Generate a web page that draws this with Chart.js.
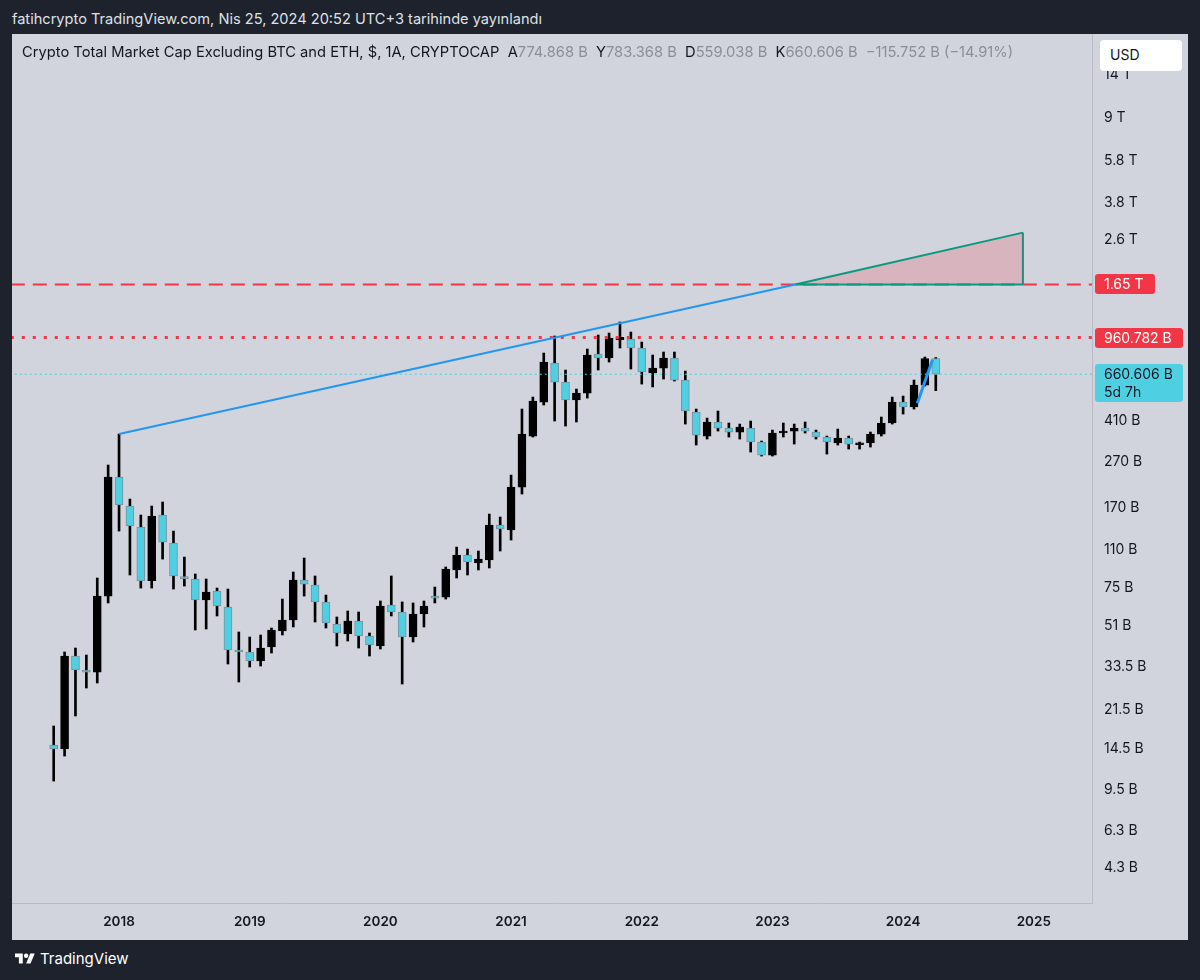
<!DOCTYPE html>
<html>
<head>
<meta charset="utf-8">
<script src="https://cdn.jsdelivr.net/npm/chart.js@4.4.1/dist/chart.umd.min.js"></script>
<style>
  html, body { margin:0; padding:0; background:#1e222d; width:1200px; height:980px; overflow:hidden; font-family: Inter, "Noto Sans", sans-serif; }
  #hdr { position:absolute; left:12px; top:10px; font-size:14.6px; color:#dfe1e6; white-space:nowrap; }
  #panel { position:absolute; left:12px; top:34px; width:1176px; height:906px; background:#d1d4dc; }
  #wrap { position:absolute; left:0; top:0; width:1176px; height:906px; }
  #legend { position:absolute; left:10px; top:9px; font-size:14.7px; color:#131722; white-space:nowrap; }
  #legend .v { color:#8a8e98; }
  #usd { position:absolute; left:1088px; top:6px; width:82px; height:31px; background:#fff; border-radius:4px; font-size:14px; color:#131722; line-height:29px; padding-left:10px; box-sizing:border-box; }
  #foot { position:absolute; left:15px; top:949px; color:#fff; font-size:15px; display:flex; align-items:center; gap:5px; }
</style>
</head>
<body>
<div id="hdr">fatihcrypto TradingView.com, Nis 25, 2024 20:52 UTC+3 tarihinde yayınlandı</div>
<div id="panel">
  <div id="wrap"><canvas id="c"></canvas></div>
  <div id="legend">Crypto Total Market Cap Excluding BTC and ETH, $, 1A, CRYPTOCAP&nbsp; A<span class="v">774.868 B</span>&nbsp; Y<span class="v">783.368 B</span>&nbsp; D<span class="v">559.038 B</span>&nbsp; K<span class="v">660.606 B</span>&nbsp; <span class="v">−115.752 B (−14.91%)</span></div>
  <div id="usd">USD</div>
</div>
<div id="foot">
  <svg width="20" height="16" viewBox="0 0 36 28"><path fill="#fff" d="M14 22H7V11H0V4h14v18z"/><circle fill="#fff" cx="20" cy="8" r="4"/><path fill="#fff" d="M28 22h-8l7.5-18h8L28 22z"/></svg>
  <span>TradingView</span>
</div>
<script>
// ---- DATA (values in billions USD) ----
const months = ['2017-07','2017-08','2017-09','2017-10','2017-11','2017-12',
 '2018-01','2018-02','2018-03','2018-04','2018-05','2018-06','2018-07','2018-08','2018-09','2018-10','2018-11','2018-12',
 '2019-01','2019-02','2019-03','2019-04','2019-05','2019-06','2019-07','2019-08','2019-09','2019-10','2019-11','2019-12',
 '2020-01','2020-02','2020-03','2020-04','2020-05','2020-06','2020-07','2020-08','2020-09','2020-10','2020-11','2020-12',
 '2021-01','2021-02','2021-03','2021-04','2021-05','2021-06','2021-07','2021-08','2021-09','2021-10','2021-11','2021-12',
 '2022-01','2022-02','2022-03','2022-04','2022-05','2022-06','2022-07','2022-08','2022-09','2022-10','2022-11','2022-12',
 '2023-01','2023-02','2023-03','2023-04','2023-05','2023-06','2023-07','2023-08','2023-09','2023-10','2023-11','2023-12',
 '2024-01','2024-02','2024-03','2024-04'];
const open = [15.06,14.46,37.33,32.36,31.7,68.80,
 231.6,172.3,139.1,80.5,157.2,118.1,83.6,81.88,66.1,72.40,61.54,39.69,
 38.89,35.48,40.92,48.18,53.9,81.0,76.97,64.78,51.74,46.73,53.35,45.78,
 41.34,62.81,58.48,45.32,57.30,68.80,68.10,89.77,104.5,96.40,99.4,142.0,
 134.9,209.1,351.7,497.5,740.6,610.0,507.8,545.3,811.8,779.3,940,946.0,
 863.0,668.8,703.7,779.3,622.6,449.3,351.7,405.9,381.6,366.4,381.6,330.9,
 289.8,362.7,370.1,381.6,366.4,348.2,327.6,344.7,322,327.6,359.0,401.8,
 497.5,472.8,591.7,774.868];
const high = [18.29,38.89,40.50,37.71,82.72,261.7,
 359.0,185.0,157.2,172.3,179.5,133.5,102.4,86.17,81.88,74.65,73.90,47.69,
 45.32,46.25,49.67,66.73,87.95,101.4,84.43,69.51,55.58,59.08,58.48,47.21,
 65.43,84.43,64.78,64.11,65.43,75.42,92.55,113.4,111.1,108.9,158.8,154.0,
 236.3,463.3,523.5,820.1,975.5,689.5,568.0,854.3,985.4,1005.8,1125.2,1016.1,
 917.5,803.5,828.5,828.5,682.5,463.3,422.6,453.9,401.8,397.5,409.9,334.3,
 373.9,401.8,397.5,405.9,373.9,351.7,377.8,351.7,330.9,366.4,427.0,523.5,
 528.8,622.6,787.3,783.368];
const low = [10.43,13.46,20.25,26.94,28.35,64.11,
 133.5,85.30,74.65,74.65,100.3,73.90,76.19,48.67,49.17,56.15,34.41,28.64,
 33.37,33.71,38.49,46.25,50.19,68.80,52.81,49.67,41.34,43.50,40.50,37.33,
 40.10,56.15,28.06,43.06,50.19,64.11,66.73,82.72,85.30,89.77,91.61,108.9,
 121.8,194.7,348.2,482.6,409.9,389.5,405.9,518.1,689.5,748.2,863.0,696.6,
 597.7,580.4,629.1,616.3,397.5,320.9,341.2,370.1,348.2,341.2,298.8,286.9,
 286.9,348.2,324.2,362.7,341.2,292.8,320.9,308.1,308.1,314.4,351.7,397.5,
 440.2,463.3,585.7,559.038];
const close = [14.46,37.33,32.36,31.7,68.80,231.6,
 174.1,140.5,80.2,155.6,119.3,84.43,82.2,66.1,71.67,62.17,39.69,38.9,
 35.48,40.50,48.67,53.9,81.0,77.76,64.78,52.28,47.21,53.35,45.78,41.77,
 62.17,58.48,45.32,57.30,62.17,67.4,90.68,104.5,97.39,100.3,142.0,136.3,
 209.1,359.0,502.6,748.2,610.0,507.8,545.3,803.5,779.3,955.7,962,863.0,
 675.6,703.7,779.3,622.6,453.9,355.3,405.9,381.6,366.4,385.5,330.9,289.8,
 362.7,368,381.6,370.1,348.2,330.9,344.7,324.2,327.6,359.0,401.8,497.5,
 472.8,591.7,774.868,660.606];

const yearLabels = ['2018','2019','2020','2021','2022','2023','2024','2025'];
const priceTicks = [4.3,6.3,9.5,14.5,21.5,33.5,51,75,110,170,270,410,2600,3800,5800,9000,14000];

// drawings (month index from 2017-07, value in B)
const trendLineX = [6, 68.1];
const trendLineY = [359.0, 1650];
const triangleX = [68.1, 89];
const triangleTopY = [1650, 2800];
const triangleBottomY = [1650, 1650];
const shortLineX = [79.3, 80.7];
const shortLineY = [490, 765];
const resistanceLevel = 1650;
const athLevel = 960.782;
const lastPrice = 660.606;

// ---- styles ----
const UP = '#000000', DOWN = '#4fd0e2', DOWN_BORDER = '#78909c';
const RED = '#f23645', BLUE = '#2196f3', GREEN = '#089981';
const FONT = 'Inter, "Noto Sans", sans-serif';

const idx = months.map((m, i) => i);
const wickData = idx.map(i => ({x: i, y: [low[i], high[i]]}));
const bodyData = idx.map(i => ({x: i, y: [open[i], close[i]]}));
const isUp = idx.map(i => close[i] >= open[i]);

function seg(xs, ys) { return xs.map((x, i) => ({x: x, y: ys[i]})); }
function fmt(v) {
  if (v >= 1000) return (+(v/1000).toFixed(2)) + ' T';
  return (+v.toFixed(3)) + ' B';
}

const tagPlugin = {
  id: 'tags',
  afterDraw(chart) {
    const ctx = chart.ctx, ys = chart.scales.y;
    const L = ys.left + 3;
    function box(v, w, bg, lines, color, hBelow) {
      const py = Math.round(ys.getPixelForValue(v));
      const top = py - 10, h = 20 + (hBelow || 0);
      ctx.save();
      ctx.fillStyle = bg;
      ctx.beginPath();
      ctx.roundRect(L, top, w, h, 3);
      ctx.fill();
      ctx.fillStyle = color;
      ctx.font = '14px ' + FONT;
      ctx.textBaseline = 'middle';
      ctx.textAlign = 'left';
      lines.forEach((t, k) => ctx.fillText(t, L + 9, py + k * 18 + 0.5));
      ctx.restore();
    }
    box(resistanceLevel, 60, RED, [fmt(resistanceLevel)], '#ffffff');
    box(athLevel, 88, RED, [fmt(athLevel)], '#ffffff');
    box(lastPrice, 88, DOWN, [fmt(lastPrice), '5d 7h'], '#131722', 18);
  }
};

const lineBase = { type: 'line', pointRadius: 0, tension: 0, borderWidth: 2, fill: false, order: 0 };

function noPad(s) { s.paddingTop = 0; s.paddingBottom = 0; s.paddingLeft = 0; s.paddingRight = 0; }

new Chart(document.getElementById('c'), {
  type: 'bar',
  data: {
    datasets: [
      Object.assign({}, lineBase, { label: 'last', data: seg([-10, 100], [lastPrice, lastPrice]), borderColor: DOWN, borderWidth: 1, borderDash: [2, 3], order: 3 }),
      { type: 'bar', label: 'wick', data: wickData, backgroundColor: UP, barThickness: 2, grouped: false, order: 6 },
      { type: 'bar', label: 'body', data: bodyData, grouped: false, order: 5, barThickness: 8, minBarLength: 2,
        backgroundColor: idx.map(i => isUp[i] ? UP : DOWN),
        borderColor: idx.map(i => isUp[i] ? UP : DOWN_BORDER),
        borderWidth: 1, borderSkipped: false },
      Object.assign({}, lineBase, { label: 'res', data: seg([-10, 100], [resistanceLevel, resistanceLevel]), borderColor: RED, borderDash: [14, 8], order: 2 }),
      Object.assign({}, lineBase, { label: 'ath', data: seg([-10, 100], [athLevel, athLevel]), borderColor: RED, borderWidth: 3, borderDash: [3, 8], order: 2 }),
      Object.assign({}, lineBase, { label: 'triBottom', data: seg(triangleX, triangleBottomY), borderColor: GREEN, order: 1 }),
      Object.assign({}, lineBase, { label: 'triTop', data: seg(triangleX, triangleTopY), borderColor: GREEN, order: 1,
        fill: { target: 5 }, backgroundColor: 'rgba(242,54,69,0.2)' }),
      Object.assign({}, lineBase, { label: 'triRight', data: seg([triangleX[1], triangleX[1]], [triangleBottomY[1], triangleTopY[1]]), borderColor: GREEN, order: 1 }),
      Object.assign({}, lineBase, { label: 'trend', data: seg(trendLineX, trendLineY), borderColor: BLUE, order: 0 }),
      Object.assign({}, lineBase, { label: 'short', data: seg(shortLineX, shortLineY), borderColor: BLUE, borderWidth: 3, order: 0 })
    ]
  },
  options: {
    responsive: true,
    maintainAspectRatio: false,
    animation: false,
    devicePixelRatio: 1,
    layout: { padding: 0 },
    plugins: { legend: { display: false }, tooltip: { enabled: false } },
    scales: {
      x: {
        type: 'linear', offset: false, bounds: 'data',
        min: -3.829, max: 95.345,
        grid: { display: false, drawTicks: false },
        border: { display: true, color: '#b8bbc3' },
        afterBuildTicks(s) { s.ticks = yearLabels.map((y, k) => ({ value: 6 + 12 * k })); },
        afterFit(s) { s.height = 37; noPad(s); },
        ticks: {
          autoSkip: false, maxRotation: 0, padding: 11, color: '#131722',
          font: { family: FONT, size: 13.5, weight: '600' },
          callback: (v) => yearLabels[Math.round((v - 6) / 12)]
        }
      },
      y: {
        type: 'logarithmic', position: 'right', bounds: 'data',
        min: 3.008, max: 21220,
        grid: { display: false, drawTicks: false },
        border: { display: true, color: '#b8bbc3' },
        afterBuildTicks(s) { s.ticks = priceTicks.map(v => ({ value: v })); },
        afterFit(s) { s.width = 96; noPad(s); },
        ticks: {
          autoSkip: false, padding: 12, color: '#131722',
          font: { family: FONT, size: 14 },
          callback: (v) => fmt(v)
        }
      }
    }
  },
  plugins: [tagPlugin]
});
</script>
</body>
</html>
